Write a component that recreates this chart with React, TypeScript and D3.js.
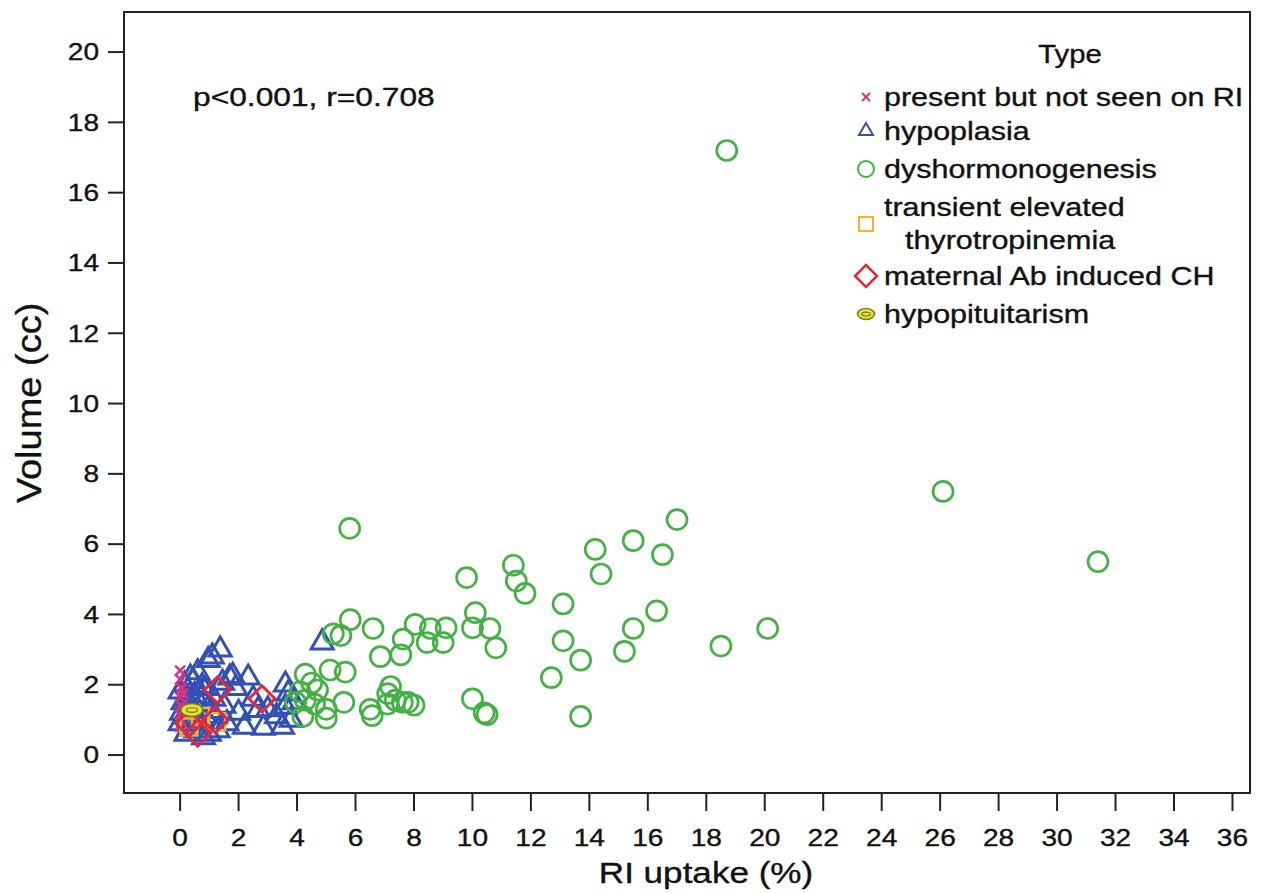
import React from "react";
import * as d3 from "d3";

// ---------- data ----------
const xTicks = [0, 2, 4, 6, 8, 10, 12, 14, 16, 18, 20, 22, 24, 26, 28, 30, 32, 34, 36];
const yTicks = [0, 2, 4, 6, 8, 10, 12, 14, 16, 18, 20];

const legendTitle = "Type";
const seriesNames = [
  "present but not seen on RI",
  "hypoplasia",
  "dyshormonogenesis",
  "transient elevated|thyrotropinemia",
  "maternal Ab induced CH",
  "hypopituitarism",
];

const notSeen: [number, number][] = [
  [0.0, 2.4], [0.0, 2.15], [0.05, 1.9], [0.0, 1.65], [0.05, 1.4], [0.0, 1.15], [0.05, 0.95], [0.0, 0.8],
  [0.1, 1.75], [0.08, 1.25],
];

const hypoplasia: [number, number][] = [
  [0.0, 0.9], [0.05, 1.2], [0.1, 1.5], [0.0, 1.8], [0.15, 2.0], [0.3, 1.0], [0.4, 1.3], [0.45, 2.1],
  [0.6, 2.35], [0.5, 1.7], [0.7, 0.9], [0.8, 1.5], [0.96, 2.7], [1.1, 2.8], [1.37, 3.0], [1.2, 1.1],
  [1.0, 0.6], [1.5, 1.4], [1.7, 2.2], [1.8, 2.25], [1.9, 1.9], [2.0, 1.2], [2.2, 0.8], [2.33, 2.2],
  [2.5, 1.6], [2.67, 1.28], [2.85, 0.77], [3.0, 1.3], [3.3, 1.1], [3.5, 0.8], [3.6, 2.0], [3.7, 1.75],
  [3.6, 1.37], [3.8, 1.0], [3.9, 1.5], [4.86, 3.2], [0.8, 0.5], [1.3, 0.7], [0.2, 0.6], [0.9, 1.9],
  [0.25, 1.6], [0.35, 2.2], [0.6, 1.3], [0.75, 1.95], [0.55, 0.7], [1.05, 1.25], [1.15, 1.6], [0.3, 0.75],
  [1.6, 0.9], [1.45, 2.05], [0.15, 1.1], [0.85, 1.1],
];

const dyshormonogenesis: [number, number][] = [
  [18.7, 17.2], [26.1, 7.5], [31.4, 5.5], [5.8, 6.45], [17.0, 6.7], [16.5, 5.7], [15.5, 6.1], [14.2, 5.85],
  [14.4, 5.15], [11.4, 5.4], [11.5, 4.95], [11.8, 4.6], [9.8, 5.05], [13.1, 4.3], [16.3, 4.1], [10.1, 4.05],
  [10.0, 3.62], [10.6, 3.6], [10.8, 3.05], [15.5, 3.6], [20.1, 3.6], [18.5, 3.1], [15.2, 2.95], [13.1, 3.25],
  [13.7, 2.7], [12.7, 2.2], [13.7, 1.1], [10.5, 1.15], [10.4, 1.2], [10.0, 1.6],
  [5.82, 3.85], [5.24, 3.45], [5.5, 3.4], [6.6, 3.6], [8.04, 3.72], [7.63, 3.3], [8.56, 3.6], [9.1, 3.62],
  [8.45, 3.2], [9.0, 3.2], [6.85, 2.8], [7.55, 2.85],
  [4.28, 2.3], [4.5, 2.05], [5.13, 2.42], [5.65, 2.36], [4.7, 1.85], [4.28, 1.56], [4.2, 1.1], [5.0, 1.3],
  [5.0, 1.05], [5.6, 1.5], [4.6, 1.45], [3.95, 1.5], [6.5, 1.3], [6.57, 1.12], [7.2, 1.95], [7.1, 1.75],
  [7.1, 1.45], [7.36, 1.56], [7.6, 1.5], [7.8, 1.5], [8.0, 1.42], [4.1, 1.8],
];

const transient: [number, number][] = [
  [1.25, 0.95], [0.3, 0.8], [0.7, 1.1],
];

const maternal: [number, number][] = [
  [1.27, 1.85], [2.8, 1.6], [0.6, 0.62], [1.2, 1.0], [0.3, 0.9],
];

const hypopituitarism: [number, number][] = [
  [0.4, 1.28],
];

// ---------- style ----------
const W = 1263;
const H = 893;
const box = { left: 124, right: 1250, top: 12, bottom: 793 };
const FONT = "'Liberation Sans', Arial, Helvetica, sans-serif";
const SX = 1.17;

const C = {
  pink: "#e0307a",
  blue: "#3550b5",
  green: "#45b045",
  orange: "#f0b428",
  red: "#e4283c",
  yellowFill: "#e6e23c",
  yellowStroke: "#7a7a1a",
};

function Txt({ x, y, size, anchor = "start", children, sx = SX, baseline = "alphabetic" }: any) {
  return (
    <g transform={`translate(${x},${y}) scale(${sx},1)`}>
      <text
        x={0}
        y={0}
        fontFamily={FONT}
        fontSize={size}
        textAnchor={anchor}
        dominantBaseline={baseline}
        fill="#111"
        stroke="#111"
        strokeWidth={0.35}
      >
        {children}
      </text>
    </g>
  );
}

function Cross({ x, y, s, w = 2 }: any) {
  return (
    <g stroke={C.pink} strokeWidth={w}>
      <line x1={x - s} y1={y - s} x2={x + s} y2={y + s} />
      <line x1={x - s} y1={y + s} x2={x + s} y2={y - s} />
    </g>
  );
}

function Tri({ x, y, s, w = 2.5 }: any) {
  const h = s * 0.866;
  const pts = `${x},${y - (2 * h) / 3} ${x - s / 2},${y + h / 3} ${x + s / 2},${y + h / 3}`;
  return <polygon points={pts} fill="none" stroke={C.blue} strokeWidth={w} />;
}

function Circ({ x, y, r, w = 2.5 }: any) {
  return <circle cx={x} cy={y} r={r} fill="none" stroke={C.green} strokeWidth={w} />;
}

function Sq({ x, y, s, w = 2.5 }: any) {
  return <rect x={x - s / 2} y={y - s / 2} width={s} height={s} fill="none" stroke={C.orange} strokeWidth={w} />;
}

function Dia({ x, y, s, w = 2.5 }: any) {
  const pts = `${x},${y - s} ${x + s},${y} ${x},${y + s} ${x - s},${y}`;
  return <polygon points={pts} fill="none" stroke={C.red} strokeWidth={w} />;
}

function Ell({ x, y, rx, ry }: any) {
  return (
    <g>
      <ellipse cx={x} cy={y} rx={rx} ry={ry} fill={C.yellowFill} stroke={C.yellowStroke} strokeWidth={1.5} />
      <ellipse cx={x} cy={y} rx={rx * 0.5} ry={ry * 0.35} fill="none" stroke={C.yellowStroke} strokeWidth={1.2} />
    </g>
  );
}

export default function App() {
  const xScale = d3.scaleLinear().domain([-1.92, 36.6]).range([box.left, box.right]);
  const yScale = d3.scaleLinear().domain([-1.08, 21.14]).range([box.bottom, box.top]);

  const legendX = 866;
  const legendTextX = 884;
  const rowsY = [97, 131, 169, 224, 276, 314];

  return (
    <svg width={W} height={H} style={{ position: "absolute", left: 0, top: 0, background: "#fff" }}>
      <rect x={0} y={0} width={W} height={H} fill="#fff" />

      {/* y axis */}
      {yTicks.map((t) => (
        <g key={"y" + t}>
          <line x1={108} x2={box.left} y1={yScale(t)} y2={yScale(t)} stroke="#222" strokeWidth={2} />
          <Txt x={99} y={yScale(t)} size={24} anchor="end" baseline="central">{t}</Txt>
        </g>
      ))}
      {/* x axis */}
      {xTicks.map((t) => (
        <g key={"x" + t}>
          <line x1={xScale(t)} x2={xScale(t)} y1={box.bottom} y2={811} stroke="#222" strokeWidth={2} />
          <Txt x={xScale(t)} y={838} size={24} anchor="middle" baseline="central">{t}</Txt>
        </g>
      ))}

      <Txt x={706} y={883} size={30} anchor="middle">RI uptake (%)</Txt>
      <g transform={`translate(41,403) rotate(-90)`}>
        <text
          x={0}
          y={0}
          fontFamily={FONT}
          fontSize={38}
          textAnchor="middle"
          fill="#111"
          stroke="#111"
          strokeWidth={0.35}
          transform="scale(1,0.92)"
        >
          Volume (cc)
        </text>
      </g>

      {/* points */}
      {hypoplasia.map((d, i) => <Tri key={"t" + i} x={xScale(d[0])} y={yScale(d[1])} s={22} w={3} />)}
      {notSeen.map((d, i) => <Cross key={"p" + i} x={xScale(d[0])} y={yScale(d[1])} s={5} w={2.5} />)}
      {dyshormonogenesis.map((d, i) => <Circ key={"c" + i} x={xScale(d[0])} y={yScale(d[1])} r={10} w={2.7} />)}
      {transient.map((d, i) => <Sq key={"s" + i} x={xScale(d[0])} y={yScale(d[1])} s={17} />)}
      {maternal.map((d, i) => <Dia key={"d" + i} x={xScale(d[0])} y={yScale(d[1])} s={13} w={3} />)}
      {hypopituitarism.map((d, i) => <Ell key={"e" + i} x={xScale(d[0])} y={yScale(d[1])} rx={11} ry={6.5} />)}

      {/* annotation */}
      <Txt x={193} y={106} size={25} anchor="start" sx={1.27}>p&lt;0.001, r=0.708</Txt>

      {/* legend */}
      <Txt x={1070} y={63} size={25} anchor="middle">{legendTitle}</Txt>
      <Cross x={legendX} y={rowsY[0]} s={4} />
      <Tri x={legendX} y={rowsY[1]} s={14} w={2} />
      <Circ x={legendX} y={rowsY[2]} r={8} w={2} />
      <Sq x={legendX} y={rowsY[3]} s={14} w={2} />
      <Dia x={legendX} y={rowsY[4]} s={11} w={2.5} />
      <Ell x={legendX} y={rowsY[5]} rx={8.5} ry={5.5} />
      {seriesNames.map((name, i) => {
        const parts = name.split("|");
        if (parts.length === 1) {
          return (
            <Txt key={"l" + i} x={legendTextX} y={rowsY[i]} size={25} sx={1.22} baseline="central">{name}</Txt>
          );
        }
        return (
          <g key={"l" + i}>
            <Txt x={legendTextX} y={rowsY[i] - 17} size={25} sx={1.22} baseline="central">{parts[0]}</Txt>
            <Txt x={legendTextX + 21} y={rowsY[i] + 16} size={25} sx={1.22} baseline="central">{parts[1]}</Txt>
          </g>
        );
      })}

      {/* frame */}
      <rect
        x={box.left}
        y={box.top}
        width={box.right - box.left}
        height={box.bottom - box.top}
        fill="none"
        stroke="#222"
        strokeWidth={2}
      />
    </svg>
  );
}
